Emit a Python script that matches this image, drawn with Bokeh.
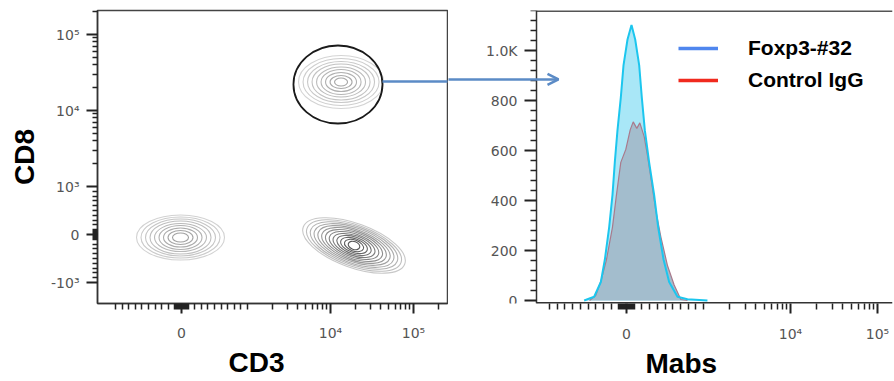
import numpy as np
from bokeh.plotting import figure
from bokeh.models import (Range1d, FixedTicker, Arrow, OpenHead, Title,
                          Legend, LegendItem, ColumnDataSource)
from bokeh.layouts import row
from bokeh.embed import file_html
from bokeh.resources import INLINE

# ---------------- data ----------------
# Contour populations (CD3, CD8 in raw fluorescence units)
POP_NAMES = ["CD3-CD8-", "CD3+CD8-", "CD3+CD8+"]
POP_CD3 = [-15, 19200, 13400]
POP_CD8 = [-63, -229, 23700]
POP_ANGLE_DEG = [0, -20, 0]
# contour ring sizes (display units) for each population, outer -> inner
POP1_W = [88, 79, 70, 61, 52, 43, 34, 25, 16]
POP1_H = [45, 41, 37, 33, 28, 24, 19, 14, 9]
POP2_W = [108, 100, 92, 84, 76, 68, 60, 52, 44, 36, 28, 20, 12]
POP2_H = [44, 41, 38, 35, 32, 29, 26, 23, 20, 17, 14, 11, 8]
POP3_W = [85, 76, 67, 58, 49, 40, 31, 22, 13]
POP3_H = [53, 47, 41, 36, 30, 25, 19, 13, 8]
# gate around CD3+CD8+ population
GATE_CD3 = 12300
GATE_CD8 = 22000
GATE_W = 89
GATE_H = 78

# Histograms (Mabs intensity, count)
FOX_X = [-550, -420, -333, -281, -225, -182, -152, -117, -74, -39, 13, 65,
         113, 165, 199, 238, 294, 359, 411, 481, 554, 662, 792, 1110]
FOX_Y = [0, 15, 74, 164, 294, 423, 553, 682, 812, 941, 1045, 1103,
         1045, 941, 812, 682, 553, 423, 294, 164, 74, 15, 5, 0]
CTRL_X = [-480, -400, -330, -260, -182, -130, -74, -9, 48, 87, 134, 173,
          230, 273, 325, 381, 446, 533, 619, 706, 792]
CTRL_Y = [0, 20, 80, 164, 294, 424, 553, 605, 683, 715, 689, 711,
          656, 579, 475, 359, 255, 139, 62, 4, 0]

SERIES = ["Foxp3-#32", "Control IgG"]

# tick labels
LOG_TICK_VALUES = [0, 1e4, 1e5]
LOG_TICK_LABELS = ["0", "10\u2074", "10\u2075"]
CD8_TICK_VALUES = [-1e3, 0, 1e3, 1e4, 1e5]
CD8_TICK_LABELS = ["-10\u00b3", "0", "10\u00b3", "10\u2074", "10\u2075"]
COUNT_TICK_VALUES = [0, 200, 400, 600, 800, 1000]
COUNT_TICK_LABELS = ["0", "200", "400", "600", "800", "1.0K"]


# ---------------- helpers ----------------
def biex(v, lin, dec):
    """Logicle-like display transform: linear within +-1000, log outside."""
    v = np.asarray(v, dtype=float)
    a = np.abs(v)
    out = np.where(a <= 1000, a / 1000.0 * lin,
                   lin + dec * np.log10(np.maximum(a, 1000.0) / 1000.0))
    return np.round(np.sign(v) * out, 3)


def minor_values():
    vals = []
    for s in (1, -1):
        vals += [s * k for k in range(10, 100, 10)]
        vals += [s * k for k in range(100, 1100, 100)]
        for dec in (1e3, 1e4, 1e5):
            vals += [s * k * dec for k in range(2, 10)]
    vals += [2e5]
    return vals


def log_axis(axis, lin, dec, majors, labels, rng):
    mj = biex(majors, lin, dec)
    mn = biex(minor_values(), lin, dec)
    mn = [float(m) for m in mn if rng[0] <= m <= rng[1] and m not in list(mj)]
    axis.ticker = FixedTicker(ticks=[float(m) for m in mj], minor_ticks=mn)
    axis.major_label_overrides = {float(m): l for m, l in zip(mj, labels)}


def style_axis(ax, major_out, minor_out):
    ax.major_tick_in = 0
    ax.minor_tick_in = 0
    ax.major_tick_out = major_out
    ax.minor_tick_out = minor_out
    ax.major_tick_line_width = 2
    ax.minor_tick_line_width = 1.5
    ax.major_tick_line_color = "#222222"
    ax.minor_tick_line_color = "#222222"
    ax.axis_line_color = "#333333"
    ax.axis_line_width = 1.5
    ax.major_label_text_font = "DejaVu Sans"
    ax.major_label_text_font_size = "14px"
    ax.major_label_text_color = "#555555"


LX = (66, 83)   # CD3 axis
LY = (48, 76)   # CD8 axis
RX = (77, 87)   # Mabs axis
ARROW_COLOR = "#5B8BC6"

# ---------------- left: contour plot ----------------
p1 = figure(width=448, height=381, output_backend="svg", toolbar_location=None,
            x_range=Range1d(-84, 266), y_range=Range1d(-69, 224),
            min_border_left=97, min_border_right=1, min_border_top=10,
            min_border_bottom=78)
p1.xgrid.visible = False
p1.ygrid.visible = False
p1.outline_line_color = "#444444"
p1.outline_line_width = 1.5

rings = []
for i, (ws, hs) in enumerate([(POP1_W, POP1_H), (POP2_W, POP2_H), (POP3_W, POP3_H)]):
    cx = float(biex([POP_CD3[i]], *LX)[0])
    cy = float(biex([POP_CD8[i]], *LY)[0])
    n = len(ws)
    if i == 1:
        greys = np.linspace(200, 85, n)
    elif i == 0:
        greys = np.linspace(210, 160, n)
    else:
        greys = np.linspace(212, 165, n)
    for j in range(n):
        g = int(greys[j])
        rings.append(dict(x=cx, y=cy, w=ws[j], h=hs[j],
                          a=np.deg2rad(POP_ANGLE_DEG[i]),
                          c="#%02x%02x%02x" % (g, g, g)))
rsrc = ColumnDataSource(dict(x=[r["x"] for r in rings], y=[r["y"] for r in rings],
                             w=[r["w"] for r in rings], h=[r["h"] for r in rings],
                             a=[r["a"] for r in rings], c=[r["c"] for r in rings]))
p1.ellipse(x="x", y="y", width="w", height="h", angle="a", source=rsrc,
           fill_alpha=0, line_color="c", line_width=1.1)

gx = float(biex([GATE_CD3], *LX)[0])
gy = float(biex([GATE_CD8], *LY)[0])
p1.ellipse(x=[gx], y=[gy], width=[GATE_W], height=[GATE_H], fill_alpha=0,
           line_color="#1a1a1a", line_width=1.8)

log_axis(p1.xaxis[0], *LX, LOG_TICK_VALUES, LOG_TICK_LABELS, (-84, 266))
log_axis(p1.yaxis[0], *LY, CD8_TICK_VALUES, CD8_TICK_LABELS, (-69, 224))
style_axis(p1.xaxis[0], 10, 6)
style_axis(p1.yaxis[0], 11, 5)
p1.xaxis[0].major_label_standoff = 11
p1.yaxis[0].major_label_standoff = 7
p1.yaxis[0].axis_label = "CD8"
p1.yaxis[0].axis_label_text_font = "Liberation Sans"
p1.yaxis[0].axis_label_text_font_style = "bold"
p1.yaxis[0].axis_label_text_font_size = "28px"
p1.yaxis[0].axis_label_text_color = "black"
p1.yaxis[0].axis_label_standoff = 8

arrow_y_left = gy + 3
p1.add_layout(Arrow(x_start=gx + GATE_W / 2, y_start=arrow_y_left, x_end=290,
                    y_end=arrow_y_left, end=None, line_color=ARROW_COLOR,
                    line_width=2.5))

p1.add_layout(Title(text="CD3", align="left", offset=131, text_font="Liberation Sans",
                    text_font_style="bold", text_font_size="28px",
                    text_color="black", standoff=3), "below")

# ---------------- right: histogram ----------------
p2 = figure(width=446, height=381, output_backend="svg", toolbar_location=None,
            x_range=Range1d(-178, 266), y_range=Range1d(-12, 1161),
            min_border_left=0, min_border_right=2, min_border_top=10,
            min_border_bottom=69)
p2.xgrid.visible = False
p2.ygrid.visible = False
p2.outline_line_color = None

fx = biex(FOX_X, *RX)
cxh = biex(CTRL_X, *RX)
p2.varea(x=fx, y1=np.zeros(len(FOX_Y)), y2=FOX_Y, fill_color="#A9E7F7")
p2.varea(x=cxh, y1=np.zeros(len(CTRL_Y)), y2=CTRL_Y, fill_color="#A3BDCD")
p2.line(x=cxh, y=CTRL_Y, line_color="#A97A8C", line_width=1.2)
p2.line(x=fx, y=FOX_Y, line_color="#1CC6EE", line_width=2)

# frame lines (top and bottom) of the histogram panel
p2.segment(x0=[-90, -90], y0=[1161, -12], x1=[266, 266], y1=[1161, -12],
           line_color=["#555555", "#333333"], line_width=3)

log_axis(p2.xaxis[0], *RX, LOG_TICK_VALUES, LOG_TICK_LABELS, (-90, 266))
p2.yaxis[0].ticker = FixedTicker(
    ticks=COUNT_TICK_VALUES,
    minor_ticks=[float(v) for v in np.arange(40, 1161, 40) if v % 200 != 0])
p2.yaxis[0].major_label_overrides = {v: l for v, l in zip(COUNT_TICK_VALUES, COUNT_TICK_LABELS)}
style_axis(p2.xaxis[0], 10, 6)
style_axis(p2.yaxis[0], 12, 6)
p2.xaxis[0].axis_line_color = None
p2.xaxis[0].major_label_standoff = 12
p2.yaxis[0].major_label_standoff = 7
p2.yaxis[0].fixed_location = -90

p2.add_layout(Arrow(x_start=-185, y_start=885, x_end=-68, y_end=885,
                    end=OpenHead(size=11, line_color=ARROW_COLOR, line_width=2.5),
                    line_color=ARROW_COLOR, line_width=2.5))

r_b = p2.line(x=[-500, -499], y=[-500, -500], line_color="#4F86EE", line_width=3.5)
r_r = p2.line(x=[-500, -499], y=[-500, -500], line_color="#F02A1E", line_width=3.5)
legend = Legend(items=[LegendItem(label=SERIES[0], renderers=[r_b]),
                       LegendItem(label=SERIES[1], renderers=[r_r])],
                location=(230, 211), border_line_alpha=0, background_fill_alpha=0,
                label_text_font="Liberation Sans", label_text_font_style="bold",
                label_text_font_size="21px", label_text_color="black",
                glyph_width=40, glyph_height=20,
                label_height=20, label_standoff=30, spacing=8, padding=0, margin=0)
p2.add_layout(legend)

p2.add_layout(Title(text="Mabs", align="left", offset=197, text_font="Liberation Sans",
                    text_font_style="bold", text_font_size="28px",
                    text_color="black", standoff=3), "below")

layout = row(p1, p2)
open("out.html", "w").write(file_html(layout, INLINE))
